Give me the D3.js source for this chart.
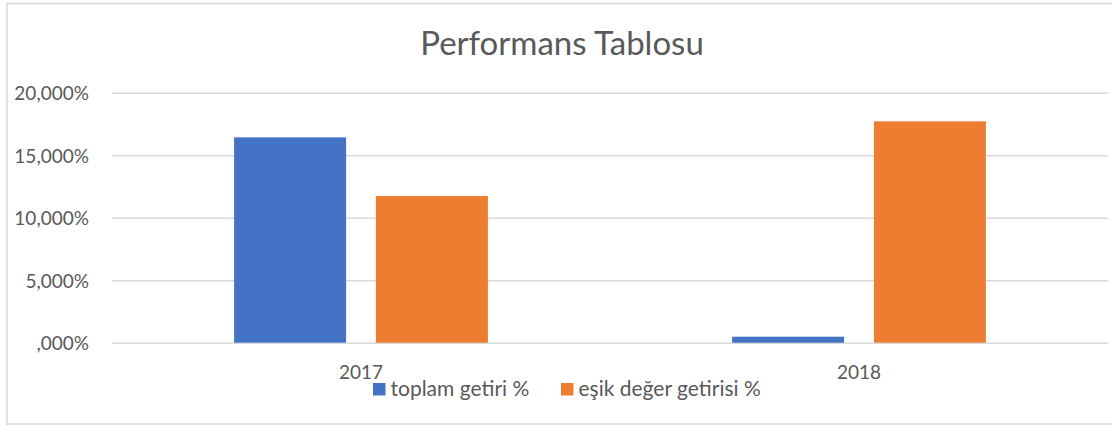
<!DOCTYPE html>
<html><head><meta charset="utf-8">
<script src="https://cdn.jsdelivr.net/npm/d3@7"></script>
<style>
html,body{margin:0;padding:0;background:#fff;overflow:hidden;}
text{font-family:Lato,"Open Sans",sans-serif;fill:#595959;}
</style></head>
<body><svg id="c" width="1112" height="425"></svg>
<script>
const categories = ["2017", "2018"];
const seriesNames = ["toplam getiri %", "eşik değer getirisi %"];
const toplamGetiri = [16.43, 0.48];
const esikDegerGetirisi = [11.74, 17.71];
const tickValues = [0, 5, 10, 15, 20];
const tickLabels = [",000%", "5,000%", "10,000%", "15,000%", "20,000%"];
const title = "Performans Tablosu";
const colors = ["#4472C4", "#ED7D31"];

const seriesValues = [toplamGetiri, esikDegerGetirisi];
const svg = d3.select("#c");
const W = 1112, H = 425;
const plot = {left: 112, right: 1108, top: 92.7, bottom: 342.7};

// outer border
svg.append("path").attr("d", `M7,${H+2} L7,3.5 L${W+2},3.5`)
  .attr("fill","none").attr("stroke","#d9d9d9").attr("stroke-width",1.5);
svg.append("line").attr("x1",7).attr("x2",W).attr("y1",424).attr("y2",424)
  .attr("stroke","#d9d9d9").attr("stroke-width",1.5);

const y = d3.scaleLinear().domain([0,20]).range([plot.bottom, plot.top]);
const x0 = d3.scaleBand().domain(categories).range([plot.left, plot.right]).padding(0);
const x1 = d3.scaleBand().domain(seriesNames).range([0, x0.bandwidth()])
  .paddingInner(0.21).paddingOuter(0.861);

// gridlines
const yAxis = d3.axisLeft(y).tickValues(tickValues)
  .tickFormat((d,i) => tickLabels[i]).tickSize(-(plot.right-plot.left)).tickPadding(23);
const gy = svg.append("g").attr("transform",`translate(${plot.left},0)`).call(yAxis);
gy.select(".domain").remove();
gy.selectAll(".tick line").attr("stroke","#d9d9d9").attr("stroke-width",1.5);
gy.selectAll(".tick text").attr("font-size",19).attr("fill","#595959")
  .style("font-family","Lato, sans-serif").attr("dy","0.36em");

// bars
const groups = svg.append("g").selectAll("g").data(categories).join("g")
  .attr("transform", d => `translate(${x0(d)},0)`);
groups.selectAll("rect").data((d,ci) => seriesNames.map((s,si) => ({s, si, v: seriesValues[si][ci]})))
  .join("rect")
  .attr("x", d => x1(d.s)).attr("width", x1.bandwidth())
  .attr("y", d => y(d.v)).attr("height", d => y(0) - y(d.v))
  .attr("fill", d => colors[d.si]);

// x axis labels
const xAxis = d3.axisBottom(x0).tickSize(0).tickPadding(0);
const gx = svg.append("g").attr("transform",`translate(0,${plot.bottom})`).call(xAxis);
gx.select(".domain").remove();
gx.selectAll(".tick text").attr("font-size",19).attr("fill","#595959")
  .style("font-family","Lato, sans-serif").attr("dy",0).attr("y",36);

// title
svg.append("text").attr("x", 562).attr("y", 55).attr("text-anchor","middle")
  .attr("font-size",33).text(title);

// legend
const legendX = [373, 561];
const lg = svg.append("g").selectAll("g").data(seriesNames).join("g")
  .attr("transform",(d,i)=>`translate(${legendX[i]},0)`);
lg.append("rect").attr("x",0).attr("y",383).attr("width",12.5).attr("height",12.5)
  .attr("fill",(d,i)=>colors[i]);
lg.append("text").attr("x",17.5).attr("y",395.5).attr("font-size",21).text(d=>d);
</script></body></html>
